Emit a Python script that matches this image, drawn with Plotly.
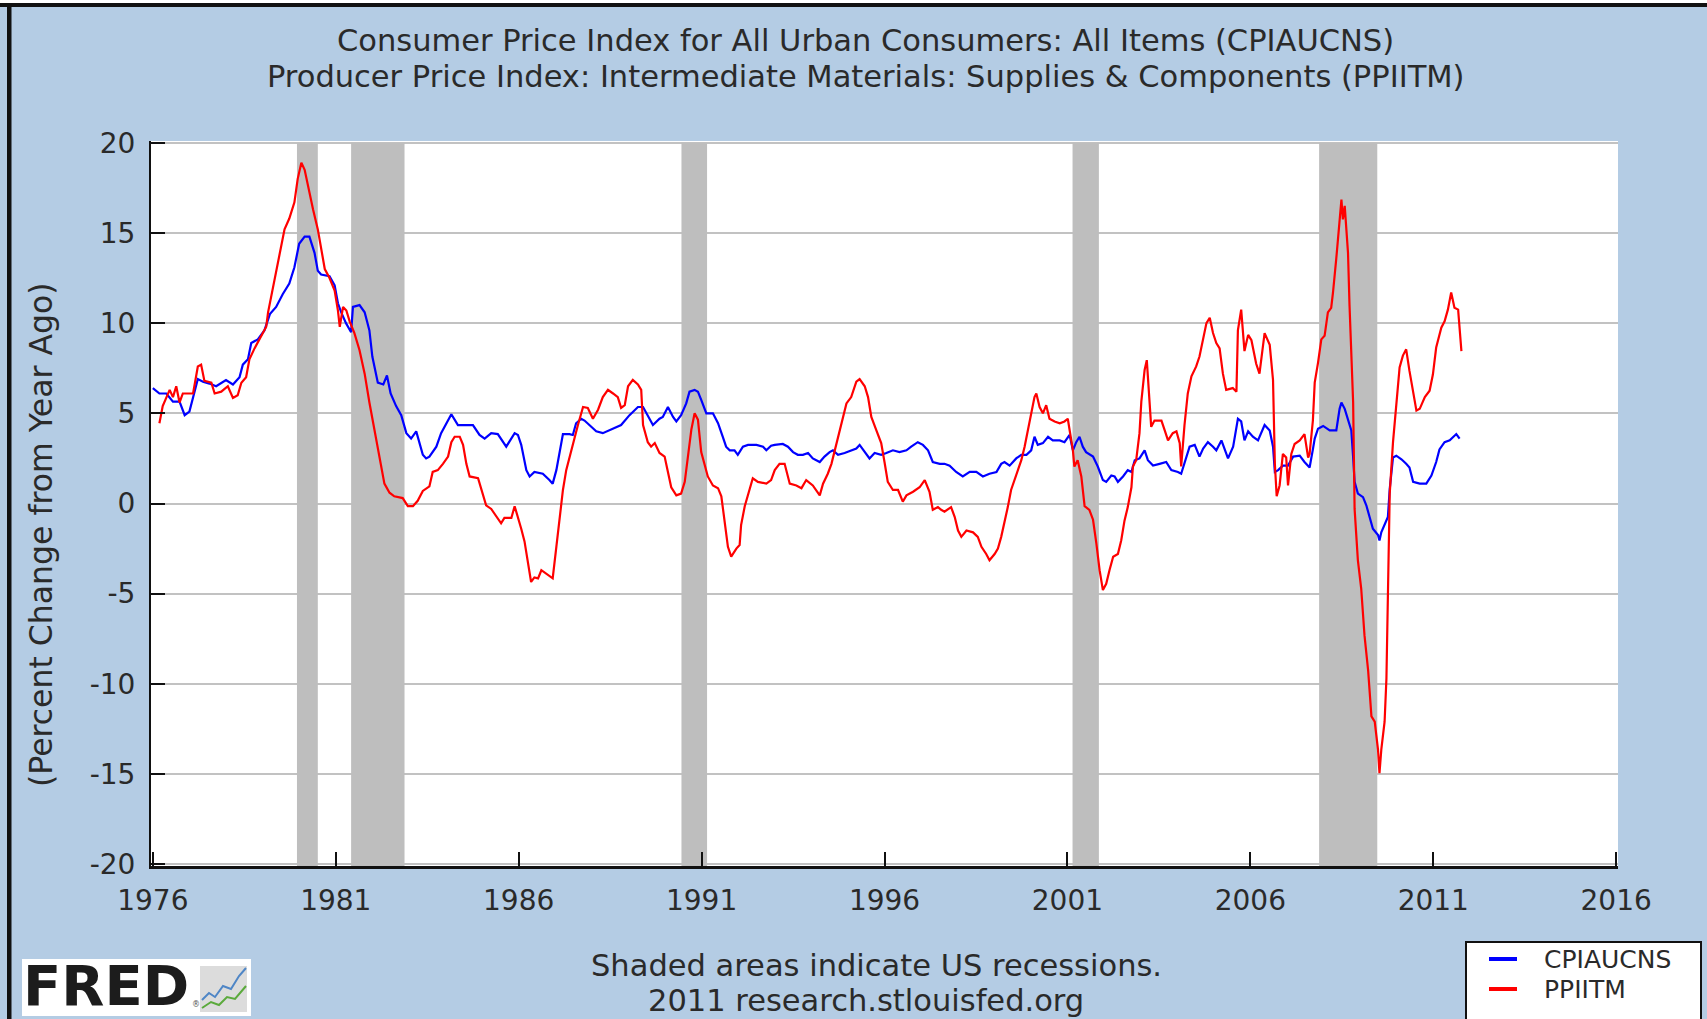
import plotly.graph_objects as go

# ---------------- data ----------------
cpi_t = [1976.00, 1976.18, 1976.37, 1976.55, 1976.73, 1976.87, 1977.00, 1977.10, 1977.23, 1977.37,
         1977.55, 1977.73, 1978.00, 1978.19, 1978.37, 1978.46, 1978.60, 1978.69, 1978.87, 1979.05,
         1979.20, 1979.37, 1979.55, 1979.73, 1979.87, 1980.00, 1980.15, 1980.28, 1980.42, 1980.51,
         1980.60, 1980.83, 1980.97, 1981.06, 1981.15, 1981.28, 1981.42, 1981.47, 1981.65, 1981.79,
         1981.92, 1982.00, 1982.15, 1982.30, 1982.40, 1982.50, 1982.65, 1982.79, 1982.93, 1983.06,
         1983.20, 1983.38, 1983.47, 1983.56, 1983.75, 1983.88, 1984.02, 1984.16, 1984.34, 1984.75,
         1984.93, 1985.07, 1985.25, 1985.43, 1985.66, 1985.89, 1985.98, 1986.07, 1986.21, 1986.30,
         1986.43, 1986.66, 1986.84, 1986.93, 1987.03, 1987.12, 1987.21, 1987.39, 1987.48, 1987.57,
         1987.71, 1987.80, 1987.94, 1988.12, 1988.30, 1988.58, 1988.80, 1989.03, 1989.26, 1989.40,
         1989.53, 1989.67, 1989.85, 1989.94, 1990.08, 1990.22, 1990.31, 1990.44, 1990.58, 1990.67,
         1990.81, 1990.90, 1990.99, 1991.13, 1991.31, 1991.45, 1991.58, 1991.67, 1991.77, 1991.90,
         1991.99, 1992.13, 1992.27, 1992.50, 1992.68, 1992.77, 1992.90, 1993.00, 1993.22, 1993.36,
         1993.50, 1993.63, 1993.77, 1993.91, 1994.04, 1994.23, 1994.36, 1994.50, 1994.59, 1994.73,
         1994.91, 1995.09, 1995.23, 1995.32, 1995.46, 1995.59, 1995.73, 1995.91, 1996.05, 1996.23,
         1996.41, 1996.60, 1996.73, 1996.91, 1997.05, 1997.19, 1997.32, 1997.51, 1997.64, 1997.78,
         1997.96, 1998.14, 1998.33, 1998.51, 1998.69, 1998.87, 1999.06, 1999.19, 1999.28, 1999.42,
         1999.60, 1999.74, 1999.88, 2000.01, 2000.10, 2000.19, 2000.33, 2000.47, 2000.60, 2000.79,
         2000.92, 2001.06, 2001.15, 2001.24, 2001.33, 2001.42, 2001.51, 2001.70, 2001.83, 2001.97,
         2002.06, 2002.20, 2002.29, 2002.38, 2002.52, 2002.65, 2002.75, 2002.84, 2002.97, 2003.11,
         2003.20, 2003.34, 2003.52, 2003.70, 2003.84, 2004.02, 2004.11, 2004.20, 2004.34, 2004.48,
         2004.61, 2004.71, 2004.84, 2004.98, 2005.07, 2005.21, 2005.30, 2005.39, 2005.53, 2005.66,
         2005.75, 2005.84, 2005.94, 2006.07, 2006.21, 2006.39, 2006.53, 2006.62, 2006.67, 2006.76,
         2006.89, 2007.03, 2007.17, 2007.35, 2007.48, 2007.62, 2007.71, 2007.76, 2007.85, 2007.99,
         2008.17, 2008.35, 2008.44, 2008.49, 2008.58, 2008.67, 2008.76, 2008.81, 2008.85, 2008.94,
         2009.08, 2009.17, 2009.26, 2009.35, 2009.49, 2009.53, 2009.58, 2009.67, 2009.76, 2009.81,
         2009.90, 2009.99, 2010.13, 2010.26, 2010.35, 2010.45, 2010.63, 2010.81, 2010.95, 2011.08,
         2011.17, 2011.31, 2011.45, 2011.63, 2011.72]
cpi_v = [6.4, 6.1, 6.1, 5.65, 5.65, 4.9, 5.1, 5.9, 6.9, 6.75,
         6.65, 6.5, 6.85, 6.6, 7.0, 7.7, 8.0, 8.9, 9.1, 9.6,
         10.5, 10.9, 11.6, 12.2, 13.1, 14.4, 14.8, 14.8, 13.9, 12.9,
         12.7, 12.6, 12.1, 11.1, 10.6, 10.0, 9.5, 10.9, 11.0, 10.6,
         9.6, 8.15, 6.7, 6.6, 7.1, 6.1, 5.4, 4.9, 3.9, 3.6,
         4.0, 2.7, 2.5, 2.6, 3.15, 3.9, 4.45, 4.95, 4.35, 4.35,
         3.8, 3.6, 3.9, 3.85, 3.15, 3.9, 3.8, 3.25, 1.85, 1.5,
         1.75, 1.65, 1.3, 1.1, 1.85, 2.8, 3.85, 3.85, 3.8, 4.45,
         4.7, 4.6, 4.35, 4.0, 3.9, 4.15, 4.35, 4.9, 5.35, 5.35,
         4.9, 4.35, 4.7, 4.8, 5.35, 4.8, 4.55, 4.9, 5.55, 6.2,
         6.3, 6.2, 5.75, 5.0, 5.0, 4.45, 3.7, 3.15, 2.95, 2.95,
         2.7, 3.15, 3.25, 3.25, 3.15, 2.95, 3.2, 3.25, 3.3, 3.15,
         2.85, 2.7, 2.7, 2.8, 2.5, 2.3, 2.6, 2.85, 2.95, 2.7,
         2.8, 2.95, 3.05, 3.25, 2.85, 2.5, 2.8, 2.7, 2.8, 2.95,
         2.85, 2.95, 3.15, 3.4, 3.25, 2.95, 2.3, 2.2, 2.2, 2.1,
         1.75, 1.5, 1.75, 1.75, 1.5, 1.65, 1.75, 2.2, 2.3, 2.1,
         2.5, 2.7, 2.7, 2.95, 3.7, 3.25, 3.35, 3.7, 3.5, 3.5,
         3.4, 3.8, 2.95, 3.4, 3.7, 3.15, 2.85, 2.6, 2.05, 1.3,
         1.2, 1.55, 1.5, 1.2, 1.5, 1.85, 1.75, 2.4, 2.5, 2.95,
         2.4, 2.1, 2.2, 2.3, 1.85, 1.75, 1.65, 2.2, 3.15, 3.25,
         2.6, 3.05, 3.4, 3.15, 2.95, 3.5, 3.05, 2.5, 3.15, 4.7,
         4.55, 3.5, 4.0, 3.7, 3.5, 4.35, 4.05, 3.15, 1.75, 1.85,
         2.1, 2.1, 2.6, 2.65, 2.3, 2.0, 3.0, 3.6, 4.15, 4.3,
         4.05, 4.05, 5.25, 5.6, 5.25, 4.7, 4.05, 2.55, 1.2, 0.55,
         0.35, -0.1, -0.75, -1.4, -1.75, -2.05, -1.6, -1.2, -0.75, 0.8,
         2.55, 2.65, 2.45, 2.2, 2.0, 1.2, 1.1, 1.1, 1.55, 2.3,
         3.0, 3.4, 3.5, 3.85, 3.6]

ppi_t = [1976.18, 1976.27, 1976.46, 1976.55, 1976.64, 1976.73, 1976.82, 1977.10, 1977.23, 1977.32,
         1977.41, 1977.60, 1977.69, 1977.87, 1978.05, 1978.19, 1978.32, 1978.42, 1978.55, 1978.64,
         1978.78, 1978.96, 1979.10, 1979.15, 1979.24, 1979.37, 1979.46, 1979.60, 1979.73, 1979.87,
         1979.96, 1980.06, 1980.15, 1980.24, 1980.38, 1980.51, 1980.60, 1980.70, 1980.83, 1980.97,
         1981.06, 1981.11, 1981.20, 1981.29, 1981.38, 1981.51, 1981.65, 1981.79, 1981.92, 1982.06,
         1982.20, 1982.33, 1982.47, 1982.60, 1982.83, 1982.97, 1983.11, 1983.24, 1983.38, 1983.56,
         1983.65, 1983.79, 1983.93, 1984.07, 1984.16, 1984.25, 1984.39, 1984.48, 1984.57, 1984.66,
         1984.89, 1985.02, 1985.11, 1985.25, 1985.39, 1985.52, 1985.61, 1985.80, 1985.89, 1985.98,
         1986.07, 1986.16, 1986.25, 1986.34, 1986.43, 1986.53, 1986.62, 1986.75, 1986.93, 1987.03,
         1987.12, 1987.21, 1987.30, 1987.39, 1987.48, 1987.62, 1987.76, 1987.89, 1988.03, 1988.17,
         1988.30, 1988.44, 1988.58, 1988.71, 1988.80, 1988.90, 1988.99, 1989.12, 1989.26, 1989.35,
         1989.40, 1989.53, 1989.62, 1989.72, 1989.85, 1989.99, 1990.08, 1990.17, 1990.31, 1990.44,
         1990.54, 1990.63, 1990.72, 1990.81, 1990.90, 1990.99, 1991.08, 1991.17, 1991.31, 1991.45,
         1991.54, 1991.63, 1991.72, 1991.81, 1991.95, 1992.04, 1992.08, 1992.18, 1992.31, 1992.40,
         1992.54, 1992.77, 1992.90, 1993.00, 1993.13, 1993.27, 1993.41, 1993.59, 1993.73, 1993.86,
         1994.04, 1994.23, 1994.32, 1994.45, 1994.55, 1994.64, 1994.73, 1994.82, 1994.96, 1995.09,
         1995.23, 1995.32, 1995.46, 1995.55, 1995.64, 1995.77, 1995.91, 1996.00, 1996.09, 1996.23,
         1996.37, 1996.50, 1996.60, 1996.78, 1996.96, 1997.10, 1997.23, 1997.32, 1997.46, 1997.55,
         1997.64, 1997.82, 1997.92, 1998.01, 1998.10, 1998.24, 1998.42, 1998.55, 1998.65, 1998.78,
         1998.87, 1999.01, 1999.10, 1999.19, 1999.28, 1999.37, 1999.46, 1999.56, 1999.65, 1999.74,
         1999.83, 1999.92, 2000.01, 2000.10, 2000.15, 2000.24, 2000.33, 2000.42, 2000.51, 2000.65,
         2000.79, 2000.92, 2001.01, 2001.06, 2001.15, 2001.19, 2001.28, 2001.38, 2001.47, 2001.60,
         2001.70, 2001.79, 2001.88, 2001.97, 2002.06, 2002.15, 2002.25, 2002.38, 2002.47, 2002.56,
         2002.65, 2002.75, 2002.79, 2002.88, 2002.97, 2003.02, 2003.11, 2003.17, 2003.23, 2003.29,
         2003.38, 2003.57, 2003.66, 2003.75, 2003.88, 2003.98, 2004.07, 2004.11, 2004.20, 2004.29,
         2004.39, 2004.52, 2004.61, 2004.71, 2004.80, 2004.89, 2004.98, 2005.07, 2005.16, 2005.25,
         2005.34, 2005.52, 2005.62, 2005.66, 2005.75, 2005.84, 2005.94, 2006.03, 2006.16, 2006.25,
         2006.39, 2006.53, 2006.62, 2006.67, 2006.72, 2006.80, 2006.89, 2006.98, 2007.03, 2007.12,
         2007.21, 2007.35, 2007.48, 2007.58, 2007.62, 2007.71, 2007.76, 2007.85, 2007.94, 2008.03,
         2008.12, 2008.21, 2008.26, 2008.35, 2008.44, 2008.49, 2008.53, 2008.58, 2008.67, 2008.71,
         2008.81, 2008.85, 2008.94, 2009.03, 2009.12, 2009.22, 2009.31, 2009.40, 2009.49, 2009.53,
         2009.58, 2009.67, 2009.72, 2009.76, 2009.81, 2009.90, 2009.99, 2010.08, 2010.17, 2010.26,
         2010.35, 2010.45, 2010.54, 2010.63, 2010.77, 2010.90, 2010.99, 2011.08, 2011.22, 2011.31,
         2011.40, 2011.49, 2011.58, 2011.68, 2011.72, 2011.77]
ppi_v = [4.45, 5.4, 6.3, 5.9, 6.5, 5.6, 6.1, 6.1, 7.6, 7.7,
         6.8, 6.7, 6.1, 6.2, 6.5, 5.85, 6.0, 6.7, 7.0, 8.0,
         8.6, 9.3, 9.8, 10.6, 11.5, 12.8, 13.8, 15.2, 15.8, 16.7,
         18.0, 18.9, 18.5, 17.6, 16.3, 15.2, 14.1, 13.0, 12.5, 11.8,
         10.7, 9.8, 10.9, 10.7, 10.1, 9.45, 8.5, 7.2, 5.6, 4.0,
         2.6, 1.1, 0.6, 0.4, 0.3, -0.15, -0.15, 0.15, 0.7, 0.95,
         1.75, 1.85, 2.2, 2.6, 3.4, 3.7, 3.7, 3.25, 2.2, 1.5,
         1.4, 0.55, -0.1, -0.3, -0.75, -1.1, -0.8, -0.8, -0.15, -0.75,
         -1.4, -2.1, -3.35, -4.35, -4.1, -4.15, -3.7, -3.9, -4.15, -2.4,
         -0.75, 0.75, 1.85, 2.6, 3.35, 4.35, 5.35, 5.3, 4.7, 5.2,
         5.9, 6.3, 6.1, 5.9, 5.3, 5.45, 6.5, 6.85, 6.6, 6.3,
         4.35, 3.4, 3.15, 3.35, 2.8, 2.6, 1.75, 0.9, 0.45, 0.55,
         1.2, 2.8, 4.1, 5.0, 4.65, 2.85, 2.2, 1.5, 1.0, 0.85,
         0.4, -0.9, -2.4, -2.95, -2.5, -2.3, -1.2, -0.15, 0.75, 1.4,
         1.2, 1.1, 1.3, 1.85, 2.2, 2.2, 1.1, 1.0, 0.85, 1.3,
         1.0, 0.45, 1.1, 1.65, 2.2, 2.95, 3.7, 4.45, 5.55, 5.9,
         6.75, 6.9, 6.5, 5.9, 4.8, 4.1, 3.35, 2.3, 1.2, 0.75,
         0.75, 0.1, 0.45, 0.65, 0.9, 1.3, 0.65, -0.35, -0.2, -0.35,
         -0.45, -0.2, -0.75, -1.5, -1.85, -1.5, -1.6, -1.85, -2.4, -2.8,
         -3.15, -2.8, -2.5, -1.85, -1.1, -0.2, 0.75, 1.3, 1.85, 2.4,
         3.15, 4.1, 5.0, 5.9, 6.1, 5.35, 5.0, 5.45, 4.7, 4.55,
         4.45, 4.55, 4.7, 4.1, 2.95, 2.05, 2.4, 1.5, -0.15, -0.35,
         -0.9, -2.2, -3.7, -4.8, -4.45, -3.7, -2.95, -2.8, -2.05, -0.95,
         -0.2, 0.9, 2.05, 2.4, 3.9, 5.65, 7.4, 7.95, 6.3, 4.25,
         4.6, 4.6, 4.05, 3.5, 3.9, 4.0, 3.35, 2.05, 4.35, 6.1,
         7.05, 7.6, 8.15, 9.05, 10.0, 10.3, 9.45, 8.9, 8.6, 7.2,
         6.3, 6.4, 6.2, 9.6, 10.75, 8.45, 9.35, 9.05, 7.75, 7.2,
         9.45, 8.8, 6.85, 2.2, 0.4, 1.0, 2.75, 2.55, 1.0, 2.75,
         3.3, 3.5, 3.85, 2.55, 2.75, 4.6, 6.7, 7.8, 9.1, 9.3,
         10.6, 10.85, 11.7, 13.6, 15.65, 16.85, 15.75, 16.5, 13.9, 11.05,
         5.6, -0.3, -3.15, -4.7, -7.3, -9.25, -11.8, -12.1, -13.65, -14.95,
         -13.65, -12.1, -9.7, -4.7, 0.55, 3.4, 5.4, 7.55, 8.2, 8.55,
         7.35, 6.25, 5.15, 5.25, 5.9, 6.25, 7.15, 8.65, 9.75, 10.1,
         10.75, 11.7, 10.85, 10.75, 9.75, 8.45]

rec_start = [1979.94, 1981.42, 1990.45, 2001.14, 2007.88]
rec_end = [1980.51, 1982.88, 1991.15, 2001.86, 2009.47]

x_ticks = [1976, 1981, 1986, 1991, 1996, 2001, 2006, 2011, 2016]
x_labels = ["1976", "1981", "1986", "1991", "1996", "2001", "2006", "2011", "2016"]
y_ticks = [-20, -15, -10, -5, 0, 5, 10, 15, 20]
y_labels = ["-20", "-15", "-10", "-5", "0", "5", "10", "15", "20"]

series_names = ["CPIAUCNS", "PPIITM"]
series_colors = ["#0000FF", "#FF0000"]

title_lines = ["Consumer Price Index for All Urban Consumers: All Items (CPIAUCNS)",
               "Producer Price Index: Intermediate Materials: Supplies & Components (PPIITM)"]
y_title = "(Percent Change from Year Ago)"
footer_lines = ["Shaded areas indicate US recessions.", "2011 research.stlouisfed.org"]

# ---------------- layout geometry ----------------
W, H = 1707, 1019
ML, MR, MT, MB = 151, 89, 141, 153
PW = W - ML - MR
PH = H - MT - MB
BG = "#B4CCE4"
FONT = "DejaVu Sans"
TXT = "#2a2a2a"


def px(x):
    return (x - ML) / PW


def py(y):
    return (H - MB - y) / PH


fig = go.Figure()
fig.add_trace(go.Scatter(x=cpi_t, y=cpi_v, mode="lines", name=series_names[0],
                         line=dict(color=series_colors[0], width=2.2)))
fig.add_trace(go.Scatter(x=ppi_t, y=ppi_v, mode="lines", name=series_names[1],
                         line=dict(color=series_colors[1], width=2.2)))

shapes = []
for s, e in zip(rec_start, rec_end):
    shapes.append(dict(type="rect", xref="x", yref="y", x0=s, x1=e, y0=-20.1, y1=20,
                       fillcolor="#BEBEBE", line=dict(width=0), layer="between"))

# outer frame (dark border on left/top of the picture)
shapes.append(dict(type="rect", xref="paper", yref="paper", x0=px(0), x1=px(W), y0=py(0), y1=py(3),
                   fillcolor="white", line=dict(width=0), layer="above"))
shapes.append(dict(type="rect", xref="paper", yref="paper", x0=px(0), x1=px(W), y0=py(3), y1=py(7),
                   fillcolor="#111111", line=dict(width=0), layer="above"))
shapes.append(dict(type="rect", xref="paper", yref="paper", x0=px(7), x1=px(11.5), y0=py(3), y1=py(H),
                   fillcolor="#111111", line=dict(width=0), layer="above"))

# legend box (manual)
shapes.append(dict(type="rect", xref="paper", yref="paper", x0=px(1466), x1=px(1701), y0=py(942), y1=py(1030),
                   fillcolor="white", line=dict(color="#111111", width=2), layer="above"))
legend_y = [959, 989]
for i in range(2):
    shapes.append(dict(type="line", xref="paper", yref="paper", x0=px(1489), x1=px(1517),
                       y0=py(legend_y[i]), y1=py(legend_y[i]),
                       line=dict(color=series_colors[i], width=4), layer="above"))

# FRED logo box + small icon
shapes.append(dict(type="rect", xref="paper", yref="paper", x0=px(22), x1=px(251), y0=py(959), y1=py(1016),
                   fillcolor="white", line=dict(width=0), layer="above"))
shapes.append(dict(type="rect", xref="paper", yref="paper", x0=px(200), x1=px(247), y0=py(966), y1=py(1012),
                   fillcolor="#DCDCDC", line=dict(width=0), layer="above"))
blue_icon = [(202, 1000), (209, 993), (215, 997), (223, 986), (231, 989), (239, 976), (246, 968)]
green_icon = [(202, 1008), (211, 1002), (219, 1005), (227, 997), (235, 999), (246, 986)]
for pts, col in [(blue_icon, "#4F86C6"), (green_icon, "#5BAA3C")]:
    path = "M " + " L ".join(f"{px(a):.5f},{py(b):.5f}" for a, b in pts)
    shapes.append(dict(type="path", xref="paper", yref="paper", path=path,
                       line=dict(color=col, width=2), layer="above"))

annotations = []
annotations.append(dict(text=title_lines[0], x=px(865), y=py(41), xref="paper", yref="paper",
                        showarrow=False, xanchor="center", yanchor="middle",
                        font=dict(family=FONT, size=30.5, color=TXT)))
annotations.append(dict(text=title_lines[1], x=px(865), y=py(76), xref="paper", yref="paper",
                        showarrow=False, xanchor="center", yanchor="middle",
                        font=dict(family=FONT, size=30.5, color=TXT)))
annotations.append(dict(text=y_title, x=px(41), y=py(535), xref="paper", yref="paper",
                        showarrow=False, xanchor="center", yanchor="middle", textangle=-90,
                        font=dict(family=FONT, size=31.5, color=TXT)))
annotations.append(dict(text=footer_lines[0], x=px(876), y=py(965), xref="paper", yref="paper",
                        showarrow=False, xanchor="center", yanchor="middle",
                        font=dict(family=FONT, size=30.5, color=TXT)))
annotations.append(dict(text=footer_lines[1], x=px(866), y=py(1000), xref="paper", yref="paper",
                        showarrow=False, xanchor="center", yanchor="middle",
                        font=dict(family=FONT, size=30.5, color=TXT)))
for i in range(2):
    annotations.append(dict(text=series_names[i], x=px(1542), y=py(legend_y[i]), xref="paper", yref="paper",
                            showarrow=False, xanchor="left", yanchor="middle",
                            font=dict(family=FONT, size=25, color=TXT)))
annotations.append(dict(text="<b>FRED</b>", x=px(21), y=py(986), xref="paper", yref="paper",
                        showarrow=False, xanchor="left", yanchor="middle",
                        font=dict(family=FONT, size=56, color="#1c1c1c")))
annotations.append(dict(text="®", x=px(196), y=py(1004), xref="paper", yref="paper",
                        showarrow=False, xanchor="center", yanchor="middle",
                        font=dict(family=FONT, size=8, color="#555555")))

fig.update_layout(
    width=W, height=H,
    paper_bgcolor=BG, plot_bgcolor="white",
    margin=dict(l=ML, r=MR, t=MT, b=MB, pad=0, autoexpand=False),
    showlegend=False,
    shapes=shapes,
    annotations=annotations,
    xaxis=dict(range=[1975.95, 2016.05], tickmode="array", tickvals=x_ticks, ticktext=x_labels,
               ticks="inside", ticklen=14, tickwidth=2, tickcolor="#111111",
               showline=True, linecolor="#111111", linewidth=3, mirror=False,
               showgrid=False, zeroline=False, ticklabelstandoff=7,
               tickfont=dict(family=FONT, size=28, color=TXT)),
    yaxis=dict(range=[-20.1, 20.1], tickmode="array", tickvals=y_ticks, ticktext=y_labels,
               ticks="inside", ticklen=14, tickwidth=2, tickcolor="#111111",
               showline=True, linecolor="#111111", linewidth=2, mirror=False,
               showgrid=True, gridcolor="#C2C2C2", gridwidth=2, zeroline=False,
               ticklabelstandoff=8,
               tickfont=dict(family=FONT, size=28, color=TXT)),
)

fig.write_html("out.html", config={"displayModeBar": False},
               post_script="document.body.style.margin='0px';document.body.style.overflow='hidden';")
